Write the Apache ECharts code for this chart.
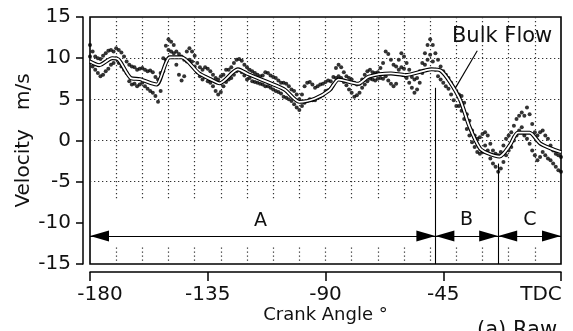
<!DOCTYPE html>
<html><head><meta charset="utf-8">
<script src="https://cdn.jsdelivr.net/npm/echarts@6/dist/echarts.min.js"></script>
<style>html,body{margin:0;padding:0;background:#fff}#c{width:573px;height:331px}</style>
</head><body><div id="c"></div>
<script>
// ---- data ----
const xTickValues = [-180, -135, -90, -45, 0];
const xTickLabels = ['-180', '-135', '-90', '-45', 'TDC'];
const gridDeg = [-170, -160, -150, -140, -130, -120, -110, -100, -90, -80, -70, -60, -50, -40, -30, -20, -10];
const gridVel = [10, 5, 0, -5];

const bulkDeg = [-180, -176.5, -171.5, -169, -164.5, -161, -156, -154.5, -149.5, -145, -138.5, -134, -130.5, -123.5, -119.5, -109.5, -105.5, -100, -94, -88.5, -85, -77.5, -73.5, -65, -59.5, -52, -49.5, -46, -42.5, -38.5, -35, -31, -28, -23.5, -19.5, -16.5, -12, -8, -4, 0];
const bulkVel = [9.6, 9.15, 10.0, 9.8, 7.6, 7.45, 6.9, 6.8, 10.1, 10.1, 8.2, 7.45, 6.95, 8.65, 8.05, 6.75, 6.15, 4.7, 5.1, 6.1, 7.4, 6.9, 7.75, 8.15, 7.95, 8.5, 8.65, 8.5, 7.15, 4.9, 1.7, -0.95, -1.55, -1.95, -0.55, 0.95, 0.95, -0.35, -0.95, -1.4];

const rawDeg = [
  -180, -179, -178, -177, -176, -175, -174, -173, -172, -171,
  -170, -169, -168, -167, -166, -165, -164, -163, -162, -161,
  -160, -159, -158, -157, -156, -155, -154, -153, -152, -151,
  -150, -149, -148, -147, -146, -145, -144, -143, -142, -141,
  -140, -139, -138, -137, -136, -135, -134, -133, -132, -131,
  -130, -129, -128, -127, -126, -125, -124, -123, -122, -121,
  -120, -119, -118, -117, -116, -115, -114, -113, -112, -111,
  -110, -109, -108, -107, -106, -105, -104, -103, -102, -101,
  -100, -99, -98, -97, -96, -95, -94, -93, -92, -91,
  -90, -89, -88, -87, -86, -85, -84, -83, -82, -81,
  -80, -79, -78, -77, -76, -75, -74, -73, -72, -71,
  -70, -69, -68, -67, -66, -65, -64, -63, -62, -61,
  -60, -59, -58, -57, -56, -55, -54, -53, -52, -51,
  -50, -49, -48, -47, -46, -45, -44, -43, -42, -41,
  -40, -39, -38, -37, -36, -35, -34, -33, -32, -31,
  -30, -29, -28, -27, -26, -25, -24, -23, -22, -21,
  -20, -19, -18, -17, -16, -15, -14, -13, -12, -11,
  -10, -9, -8, -7, -6, -5, -4, -3, -2, -1,
  0];
const rawHi = [
  11.6, 10.8, 10.2, 10.0, 9.9, 10.3, 10.6, 10.9, 11.0, 10.8,
  11.2, 11.0, 10.7, 10.2, 9.6, 9.2, 9.0, 8.9, 8.6, 8.7,
  8.8, 8.6, 8.4, 8.5, 8.3, 7.7, 7.4, 8.2, 10.0, 11.5,
  12.3, 12.0, 11.6, 10.8, 10.5, 10.2, 9.8, 10.8, 11.2, 10.8,
  10.3, 9.4, 8.9, 8.6, 8.9, 8.7, 8.4, 8.0, 7.6, 7.4,
  7.8, 8.0, 8.6, 8.6, 8.9, 9.4, 9.8, 9.9, 9.7, 9.2,
  8.9, 8.6, 8.4, 8.2, 8.0, 7.8, 7.9, 8.3, 8.2, 7.9,
  7.7, 7.6, 7.3, 7.0, 7.0, 6.9, 6.6, 6.2, 6.0, 5.6,
  5.0, 5.6, 6.6, 7.0, 7.1, 6.8, 6.4, 6.6, 6.8, 6.9,
  7.1, 7.3, 7.2, 7.7, 8.8, 9.2, 8.9, 8.3, 7.8, 7.6,
  7.4, 7.0, 6.8, 6.9, 7.4, 8.0, 8.4, 8.6, 8.3, 8.2,
  8.3, 8.8, 9.4, 10.8, 10.5, 9.8, 9.2, 9.0, 9.8, 10.6,
  10.2, 9.4, 8.6, 7.7, 7.4, 7.6, 8.4, 9.4, 10.6, 11.6,
  12.3, 11.6, 10.6, 9.8, 9.0, 8.4, 8.0, 7.6, 7.0, 6.4,
  6.0, 5.6, 5.4, 4.6, 3.2, 2.4, 1.2, 0.6, 0.2, 0.4,
  0.8, 1.0, 0.6, -0.4, -1.2, -1.6, -1.8, -1.4, -0.6, 0.2,
  0.6, 1.0, 1.8, 2.6, 3.0, 3.4, 3.0, 4.0, 3.2, 2.0,
  1.0, 0.6, 1.0, 1.2, 0.6, 0.2, -0.6, -1.2, -1.6, -1.8,
  -2.0];
const rawLo = [
  10.2, 9.0, 8.6, 8.2, 7.8, 8.0, 8.4, 8.7, 9.2, 9.4,
  10.0, 9.4, 9.0, 8.6, 8.2, 7.2, 6.8, 6.9, 6.6, 6.8,
  7.0, 6.6, 6.3, 6.0, 5.8, 5.4, 4.7, 6.0, 8.4, 9.8,
  11.0, 10.8, 10.6, 9.2, 8.0, 7.3, 7.8, 9.6, 9.8, 9.6,
  9.0, 8.3, 7.8, 7.4, 7.7, 7.2, 7.0, 6.6, 6.0, 5.6,
  5.9, 6.6, 7.1, 7.4, 7.6, 8.0, 8.4, 8.6, 8.3, 7.9,
  7.4, 7.6, 7.2, 7.1, 7.0, 6.9, 6.8, 6.6, 6.6, 6.4,
  6.2, 6.0, 5.9, 5.7, 5.3, 5.2, 5.0, 4.8, 4.4, 4.0,
  3.7, 4.2, 4.6, 4.8, 5.0, 4.9, 4.9, 5.2, 5.3, 5.5,
  6.0, 6.1, 6.3, 6.8, 7.6, 7.8, 7.6, 7.1, 6.7, 6.2,
  5.8, 5.3, 5.5, 5.8, 6.4, 6.8, 7.2, 7.5, 7.4, 7.3,
  7.5, 7.6, 7.5, 7.8, 7.3, 6.9, 6.6, 6.9, 8.6, 8.9,
  8.7, 7.6, 7.0, 6.4, 5.8, 6.2, 7.0, 8.2, 9.2, 9.8,
  10.4, 9.6, 8.6, 7.8, 7.4, 7.0, 6.6, 6.3, 5.6, 4.9,
  4.2, 4.2, 3.6, 2.6, 1.4, 0.6, -0.2, -0.8, -1.4, -1.6,
  -1.4, -0.6, -1.2, -2.2, -2.8, -3.2, -3.8, -3.4, -2.6, -1.8,
  -1.2, -0.8, 0.0, 0.6, 1.2, 1.6, 0.6, 0.2, -0.4, -1.2,
  -1.8, -2.4, -2.0, -1.4, -1.8, -2.2, -2.4, -2.8, -3.2, -3.6,
  -3.8];

// phase boundaries and labels
const phaseBounds = [-180, -48, -24, 0];
const phaseNames = ['A', 'B', 'C'];
const arrowVel = -11.6;

// ---- chart ----
const FONT = 'DejaVu Sans';
const INK = '#111';
const txt = (size) => ({ fontFamily: FONT, fontSize: size, color: INK });

const chart = echarts.init(document.getElementById('c'), null, { renderer: 'canvas' });

const gridLines = [];
gridDeg.forEach(d => {
  gridLines.push([{ coord: [d, 15] }, { coord: [d, -7] }]);
  gridLines.push([{ coord: [d, -13] }, { coord: [d, -15] }]);
});
gridVel.forEach(v => gridLines.push([{ coord: [-180, v] }, { coord: [0, v] }]));

const arrowLines = [];
for (let i = 0; i < phaseNames.length; i++) {
  arrowLines.push([{ coord: [phaseBounds[i], arrowVel] }, { coord: [phaseBounds[i + 1], arrowVel] }]);
}
const phaseLabelPos = [[-114.8, -9.8], [-36.1, -9.7], [-11.9, -9.7]];

const option = {
  animation: false,
  backgroundColor: '#fff',
  grid: { left: 90, right: 12, top: 17, bottom: 67, show: true, borderColor: '#000', borderWidth: 1.6,
          backgroundColor: 'transparent', containLabel: false, outerBoundsMode: 'none' },
  xAxis: {
    type: 'value', min: -180, max: 0, interval: 45, offset: 8,
    axisLine: { show: true, onZero: false, lineStyle: { color: '#000', width: 1.5 } },
    axisTick: { show: true, length: 9, lineStyle: { color: '#000', width: 1.5 } },
    splitLine: { show: false },
    axisLabel: {
      margin: 13, showMinLabel: true, showMaxLabel: true, ...txt(20),
      formatter: (v) => {
        const i = xTickValues.indexOf(v);
        const s = i >= 0 ? xTickLabels[i] : '';
        if (i === 0) return '{f|' + s + '}';
        if (i === xTickValues.length - 1) return '{l|' + s + '}';
        return '{n|' + s + '}';
      },
      rich: {
        f: { ...txt(20), padding: [0, 0, 0, 20] },
        l: { ...txt(20), padding: [0, 40, 0, 0] },
        n: { ...txt(20) }
      }
    },
    name: 'Crank Angle °', nameLocation: 'middle', nameGap: 34, nameMoveOverlap: false,
    nameTextStyle: { ...txt(18) }
  },
  yAxis: {
    type: 'value', min: -15, max: 15, interval: 5, offset: 7,
    axisLine: { show: true, onZero: false, lineStyle: { color: '#000', width: 1.5 } },
    axisTick: { show: true, length: 7, lineStyle: { color: '#000', width: 1.5 } },
    splitLine: { show: false },
    axisLabel: { margin: 12, ...txt(20) },
    name: 'Velocity   m/s', nameLocation: 'middle', nameGap: 49, nameRotate: 90, nameMoveOverlap: false,
    nameTextStyle: { ...txt(20) }
  },
  series: [
    {
      name: 'grid', type: 'line', data: [], silent: true, z: 1,
      markLine: { silent: true, symbol: 'none', animation: false, label: { show: false },
        lineStyle: { color: '#333', type: [1.3, 2.7], width: 1.2 }, data: gridLines }
    },
    {
      name: 'raw hi', type: 'scatter', z: 3, symbol: 'circle', symbolSize: 4,
      itemStyle: { color: '#000' },
      data: rawDeg.map((d, i) => [d, rawHi[i]])
    },
    {
      name: 'raw lo', type: 'scatter', z: 3, symbol: 'circle', symbolSize: 4,
      itemStyle: { color: '#000' },
      data: rawDeg.map((d, i) => [d, rawLo[i]])
    },
    {
      name: 'bulk outline', type: 'line', z: 4, symbol: 'none', smooth: 0.25,
      lineStyle: { color: '#000', width: 4 },
      data: bulkDeg.map((d, i) => [d, bulkVel[i]])
    },
    {
      name: 'bulk', type: 'line', z: 5, symbol: 'none', smooth: 0.25,
      lineStyle: { color: '#fff', width: 1.8 },
      data: bulkDeg.map((d, i) => [d, bulkVel[i]])
    },
    {
      name: 'phase arrows', type: 'line', data: [], z: 6,
      markLine: { silent: true, animation: false, label: { show: false },
        symbol: ['triangle', 'triangle'], symbolSize: [11, 19], symbolOffset: [[0, 9.5], [0, 9.5]],
        lineStyle: { color: '#000', type: 'solid', width: 1.2 },
        itemStyle: { color: '#000' },
        data: arrowLines }
    },
    {
      name: 'bounds', type: 'line', data: [], z: 6,
      markLine: { silent: true, animation: false, label: { show: false }, symbol: 'none',
        lineStyle: { color: '#000', type: 'solid', width: 1.1 },
        data: [
          [{ coord: [phaseBounds[1], 6.4] }, { coord: [phaseBounds[1], -15] }],
          [{ coord: [phaseBounds[2], -2.8] }, { coord: [phaseBounds[2], -15] }],
          [{ coord: [-32, 10.9] }, { coord: [-40.5, 6.3] }]
        ] },
      markPoint: { silent: true, animation: false, symbol: 'circle', symbolSize: 0,
        label: { show: true, position: 'inside', ...txt(19) },
        data: phaseNames.map((n, i) => ({ coord: phaseLabelPos[i], value: n, label: { formatter: n } }))
          .concat([{ coord: [-22.5, 12.6], value: 'Bulk Flow', label: { formatter: 'Bulk Flow', ...txt(21) } }]) }
    }
  ],
  graphic: [
    { type: 'text', left: 477, top: 320, style: { text: '(a) Raw', fontFamily: FONT, fontSize: 21, fill: INK } }
  ]
};
chart.setOption(option);
</script>
</body></html>
